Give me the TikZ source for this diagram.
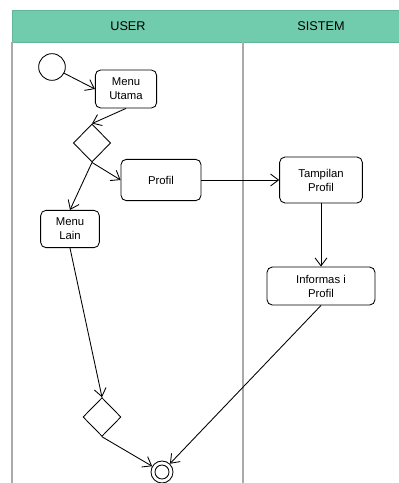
\documentclass[tikz,border=0pt]{standalone}
\usepackage{fontspec}
\setmainfont{Liberation Sans}
\usetikzlibrary{arrows.meta,shapes.geometric}
\definecolor{lanehead}{RGB}{112,204,172}
\definecolor{laneheadline}{RGB}{96,182,152}
\definecolor{laneline}{RGB}{170,170,170}
\tikzset{
  px/.style={x=0.75pt,y=-0.75pt},
  action/.style={draw, line width=0.65pt, rounded corners=4pt, align=center,
    font=\fontsize{8.5}{10.5}\selectfont, inner sep=1pt},
  decision/.style={draw, line width=0.65pt, diamond, inner sep=0pt},
  flow/.style={draw, line width=0.65pt, -{Straight Barb[length=6pt,width=9pt,line width=0.65pt]}},
  lanetitle/.style={font=\fontsize{9.5}{11}\selectfont},
}
\begin{document}
\begin{tikzpicture}[px]
  \useasboundingbox (0,0) rectangle (399,483);
  % swimlane header and separators
  \fill[lanehead] (12,10) rectangle (399,42);
  \draw[laneheadline, line width=0.6pt] (12,42) -- (12,10) -- (399,10);
  \draw[laneheadline, line width=0.6pt] (12,42) -- (399,42);
  \node[lanetitle] (userlane) at (128,26) {USER};
  \node[lanetitle] (sistemlane) at (321,26) {SISTEM};
  \draw[laneline, line width=0.8pt] (12,42) -- (12,483);
  \draw[laneline, line width=0.8pt] (243,42) -- (243,483);

  % activities
  \node[draw, circle, line width=0.65pt, minimum size=20pt, inner sep=0pt] (start) at (52,67) {};
  \node[action, minimum width=46pt, minimum height=28.5pt] (utama) at (126,89) {Menu\\Utama};
  \node[decision, minimum width=28pt, minimum height=28.5pt] (dec1) at (92,143) {};
  \node[action, minimum width=60pt, minimum height=31pt] (profil) at (161,180) {Profil};
  \node[action, minimum width=44pt, minimum height=28pt] (lain) at (70,229) {Menu\\Lain};
  \node[action, minimum width=62pt, minimum height=34.5pt] (tampil) at (321,180) {Tampilan\\Profil};
  \node[action, minimum width=81pt, minimum height=28.5pt] (info) at (321,286) {Informas i\\Profil};
  \node[decision, minimum width=28.5pt, minimum height=29pt] (dec2) at (102,417) {};
  \node[draw, circle, line width=0.65pt, minimum size=16.5pt, inner sep=0pt] (final) at (162,472) {};
  \node[draw, circle, line width=0.65pt, minimum size=10.5pt, inner sep=0pt] (finalin) at (162,472) {};

  % control flow
  \path[flow] (start) -- (utama.west);
  \path[flow] (utama.south) -- (dec1.north);
  \path[flow] (dec1.south) -- (profil.west);
  \path[flow] (dec1.south) -- (lain.north);
  \path[flow] (profil) -- (tampil);
  \path[flow] (tampil) -- (info);
  \path[flow] (lain.south) -- (dec2.north);
  \path[flow] (dec2.south) -- (final);
  \path[flow] (info.south) -- (final);
\end{tikzpicture}
\end{document}
